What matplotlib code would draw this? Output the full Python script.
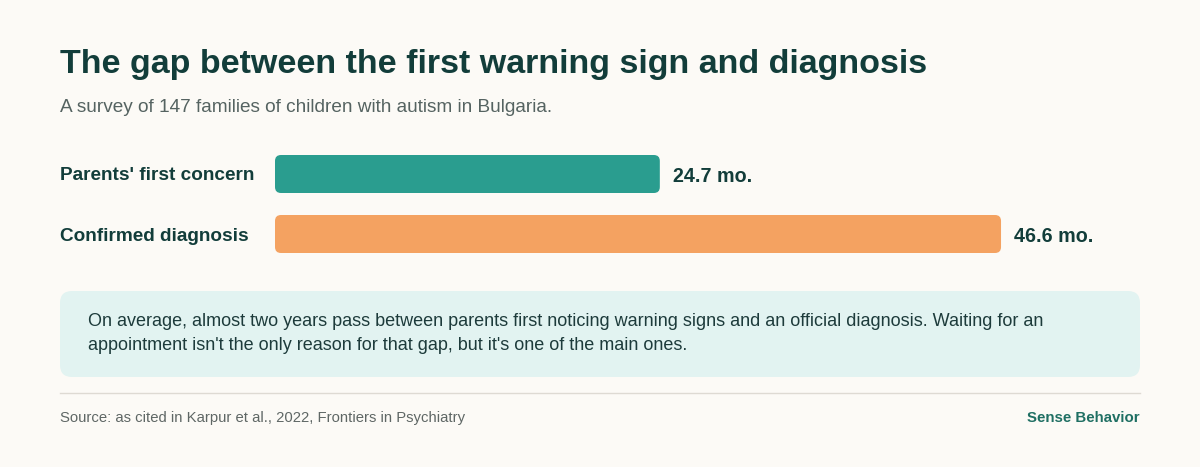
import matplotlib
matplotlib.use("Agg")
import matplotlib.pyplot as plt
from matplotlib.patches import FancyBboxPatch
from matplotlib.lines import Line2D

categories = ["Parents' first concern", "Confirmed diagnosis"]
values = [24.7, 46.6]
value_labels = ["24.7 mo.", "46.6 mo."]
colors = ["#2a9d8f", "#f4a261"]

plt.rcParams['font.family'] = ['Liberation Sans', 'DejaVu Sans']
W, H = 1200, 467
fig = plt.figure(figsize=(12, 4.67), dpi=100)
fig.patch.set_facecolor("#fcfaf6")

def fx(x): return x / W
def fy(y): return 1 - y / H

dark = "#123d3a"
fig.text(fx(60), fy(65), "The gap between the first warning sign and diagnosis",
         fontsize=24.5, fontweight="bold", color=dark, va="center")
fig.text(fx(60), fy(107), "A survey of 147 families of children with autism in Bulgaria.",
         fontsize=13.7, color="#556361", va="center")

ax = fig.add_axes([fx(275), fy(264), fx(1140 - 275), (264 - 144) / H])
ax.set_facecolor("none")
pxx = 15.58
ax.set_xlim(0, 865 / pxx)
ax.set_ylim(1.5, -0.5)
ax.axis("off")
bh = 38 / 60
bars = ax.barh(range(len(values)), values, height=bh, color=colors)
for b, c in zip(bars, colors):
    x0, y0, w, h = b.get_x(), b.get_y(), b.get_width(), b.get_height()
    b.set_visible(False)
    ax.add_patch(FancyBboxPatch((x0, y0), w, h,
                                boxstyle=f"round,pad=0,rounding_size={6/pxx}",
                                mutation_aspect=(1/60)/(1/pxx),
                                facecolor=c, edgecolor="none"))
for i, (v, lab) in enumerate(zip(values, value_labels)):
    ax.text(v + 13 / pxx, i + 2 / 60, lab, fontsize=14.2, fontweight="bold",
            color=dark, va="center", ha="left")
for i, cat in enumerate(categories):
    fig.text(fx(60), fy(176 + 60 * i), cat, fontsize=13.7, fontweight="bold",
             color=dark, va="center")

fig.patches.append(FancyBboxPatch((fx(60), fy(377)), fx(1080), (377 - 291) / H,
                                  boxstyle=f"round,pad=0,rounding_size={12/W}",
                                  mutation_aspect=W / H,
                                  transform=fig.transFigure, facecolor="#e2f3f1",
                                  edgecolor="none", figure=fig))
fig.text(fx(88), fy(321), "On average, almost two years pass between parents first noticing warning signs and an official diagnosis. Waiting for an",
         fontsize=13, color="#1d3b3b", va="center")
fig.text(fx(88), fy(346), "appointment isn't the only reason for that gap, but it's one of the main ones.",
         fontsize=13, color="#1d3b3b", va="center")

fig.lines.append(Line2D([fx(60), fx(1140)], [fy(393), fy(393)], transform=fig.transFigure,
                        color="#dedad3", linewidth=1, figure=fig))
fig.text(fx(60), fy(418), "Source: as cited in Karpur et al., 2022, Frontiers in Psychiatry",
         fontsize=10.7, color="#5f6765", va="center")
fig.text(fx(1140), fy(418), "Sense Behavior", fontsize=10.8, fontweight="bold",
         color="#1f6f63", va="center", ha="right")

fig.savefig("out.png", dpi=100, facecolor=fig.get_facecolor())
